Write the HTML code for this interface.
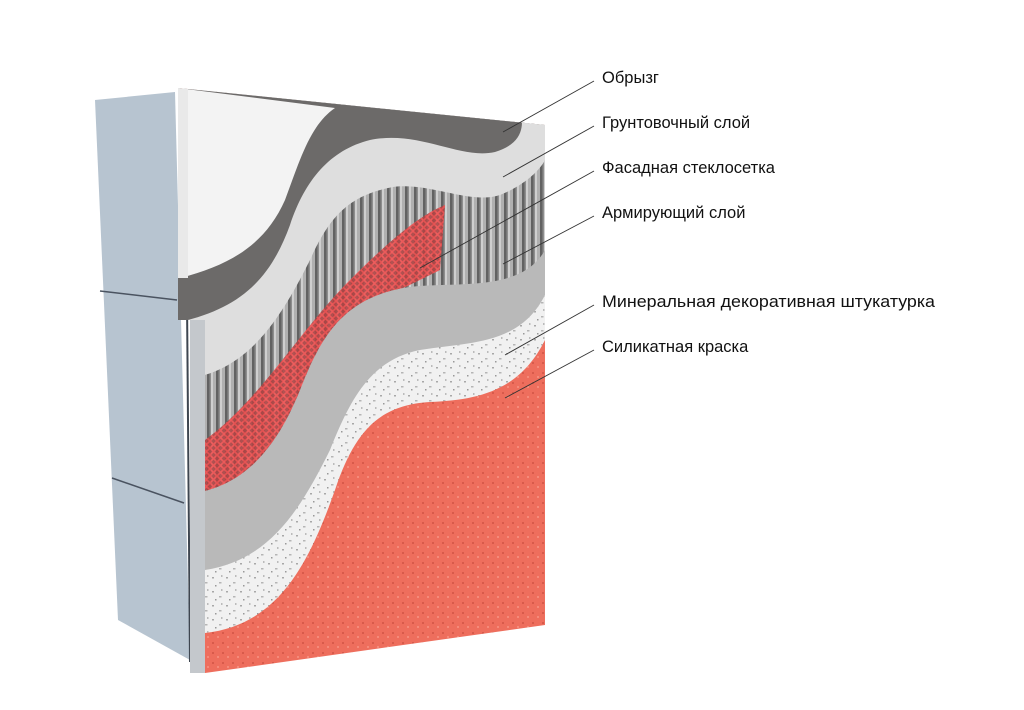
<!DOCTYPE html>
<html><head><meta charset="utf-8"><style>
html,body{margin:0;padding:0;background:#fff;width:1024px;height:710px;overflow:hidden}
svg{display:block}
text{font-family:"Liberation Sans",sans-serif;font-size:16.5px;fill:#111}
</style></head><body>
<svg width="1024" height="710" viewBox="0 0 1024 710" xmlns="http://www.w3.org/2000/svg">
<defs>
<pattern id="rods" width="9" height="20" patternUnits="userSpaceOnUse">
<rect width="9" height="20" fill="#cfcfcf"/>
<rect x="0" width="2.5" height="20" fill="#626262"/>
<rect x="2.5" width="1.5" height="20" fill="#8e8e8e"/>
<rect x="6" width="3" height="20" fill="#b0b0b0"/>
</pattern>
<pattern id="mesh" width="7" height="7" patternUnits="userSpaceOnUse">
<rect width="7" height="7" fill="#b04444"/>
<path d="M0 0L7 7M7 0L0 7" stroke="#f25050" stroke-width="1.6"/>
</pattern>
<pattern id="speck" width="14" height="14" patternUnits="userSpaceOnUse">
<rect width="14" height="14" fill="#f1f1f1"/>
<rect x="2" y="3" width="2" height="1.5" fill="#a8a8a8"/>
<rect x="9" y="8" width="2.5" height="1.5" fill="#b5b5b5"/>
<rect x="5" y="11" width="1.5" height="1.5" fill="#999"/>
<rect x="11" y="1" width="1.5" height="2" fill="#bbb"/>
</pattern>
<pattern id="red" width="10" height="10" patternUnits="userSpaceOnUse">
<rect width="10" height="10" fill="#ee6e5d"/>
<rect x="2" y="2" width="2" height="2" fill="#d85a4b"/>
<rect x="7" y="6" width="2" height="2" fill="#f58a7a"/>
</pattern>
<clipPath id="panel"><polygon points="178,88 545,125 545,625 205,673 190,673 190,320 178,320"/></clipPath>
</defs>

<!-- left block -->
<polygon points="95,100 175,92 190,660 118,620" fill="#b7c4d0"/>
<line x1="100" y1="291" x2="177" y2="300" stroke="#4a5360" stroke-width="1.5"/>
<line x1="112" y1="478" x2="184" y2="503" stroke="#4a5360" stroke-width="1.5"/>
<line x1="187" y1="300" x2="190" y2="662" stroke="#3e4650" stroke-width="2"/>

<g clip-path="url(#panel)">
<rect x="170" y="80" width="380" height="600" fill="url(#red)"/>
<path fill="url(#speck)" d="M205,633 C280,625 310,560 335,490 C355,430 380,405 430,402 C480,400 520,390 545,340 L545,120 L178,88 L178,640 Z"/>
<path fill="#b9b9b9" d="M205,570 C270,560 300,510 330,450 C350,400 370,360 420,350 C470,342 520,345 545,295 L545,120 L178,88 L178,570 Z"/>
<path fill="url(#rods)" d="M200,492 C250,482 280,440 300,390 C320,340 340,300 403,288 C450,280 520,295 545,250 L545,120 L178,88 L178,492 Z"/>
<path fill="url(#mesh)" opacity="0.9" d="M205,440 C260,400 300,330 350,280 C390,240 420,215 445,205 L440,270 C420,280 410,285 403,288 C340,300 320,340 300,390 C280,440 250,482 200,492 Z"/>
<path fill="#dedede" d="M197,377 C250,365 280,320 310,260 C330,215 350,195 393,187 C430,182 470,205 500,195 C525,185 540,170 545,160 L545,120 L178,88 L178,377 Z"/>
<path fill="#6c6a69" d="M180,322 C240,308 270,280 290,225 C305,180 330,150 370,140 C420,130 460,160 495,152 C515,146 522,135 522,122 L178,88 L178,322 Z"/>
<path fill="#f3f3f3" d="M180,278 C230,265 265,245 285,200 C300,160 310,125 335,108 L178,88 Z"/>
<rect x="190" y="320" width="15" height="360" fill="#c4c8cc"/>
<rect x="178" y="88" width="10" height="190" fill="#e9e9e9"/>
</g>

<g stroke="#333" stroke-width="0.9">
<line x1="594" y1="81" x2="503" y2="132"/>
<line x1="594" y1="126" x2="503" y2="177"/>
<line x1="594" y1="171" x2="420" y2="268"/>
<line x1="594" y1="216" x2="503" y2="264"/>
<line x1="594" y1="305" x2="505" y2="355"/>
<line x1="594" y1="350" x2="505" y2="398"/>
</g>
<text x="602" y="83">Обрызг</text>
<text x="602" y="128">Грунтовочный слой</text>
<text x="602" y="173">Фасадная стеклосетка</text>
<text x="602" y="218">Армирующий слой</text>
<text x="602" y="307" textLength="333" lengthAdjust="spacingAndGlyphs">Минеральная декоративная штукатурка</text>
<text x="602" y="352">Силикатная краска</text>
</svg>
</body></html>
